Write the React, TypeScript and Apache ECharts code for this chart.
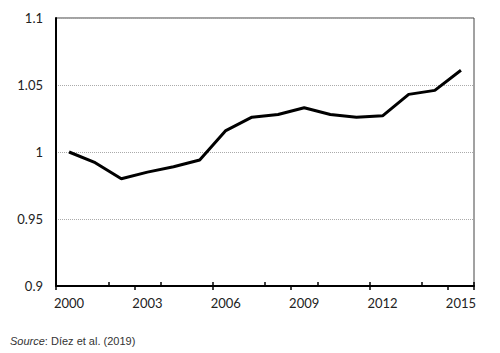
import React, { useEffect, useRef } from "react";
import * as echarts from "echarts";

const years = ["2000","2001","2002","2003","2004","2005","2006","2007","2008","2009","2010","2011","2012","2013","2014","2015"];
const values = [1.0, 0.992, 0.980, 0.985, 0.989, 0.994, 1.016, 1.026, 1.028, 1.033, 1.028, 1.026, 1.027, 1.043, 1.046, 1.061];
const yMin = 0.9;
const yMax = 1.1;
const yStep = 0.05;
const sourceAuthor = "Díez et al. (2019)";

export default function App() {
  const ref = useRef<HTMLDivElement>(null);
  useEffect(() => {
    document.body.style.margin = "0";
    const chart = echarts.init(ref.current!, undefined, { renderer: "svg" });
    chart.setOption({
      animation: false,
      backgroundColor: "#ffffff",
      grid: {
        left: 56, right: 26, top: 18, bottom: 67,
        show: true, borderColor: "#444", borderWidth: 1,
      },
      xAxis: [
        {
          type: "category",
          data: years,
          boundaryGap: true,
          axisLine: { show: true, lineStyle: { color: "#000", width: 2 } },
          axisTick: { show: true, length: 4, lineStyle: { color: "#000", width: 1.5 } },
          axisLabel: {
            interval: 2,
            color: "#222",
            fontFamily: "Lato",
            fontSize: 13,
            margin: 10,
          },
          splitLine: { show: false },
        },
        {
          type: "category",
          data: years,
          position: "bottom",
          boundaryGap: true,
          axisLine: { show: false },
          axisTick: { show: true, inside: true, length: 4, lineStyle: { color: "#000", width: 1.5 } },
          axisLabel: { show: false },
          splitLine: { show: false },
        },
      ],
      yAxis: {
        type: "value",
        min: yMin,
        max: yMax,
        interval: yStep,
        axisLine: { show: true, lineStyle: { color: "#000", width: 2 } },
        axisTick: { show: false },
        axisLabel: {
          color: "#222",
          fontFamily: "Lato",
          fontSize: 13,
          margin: 13,
          formatter: (v: number) => String(Math.round(v * 100) / 100),
        },
        splitLine: { show: true, lineStyle: { color: "#aaa", type: [1, 1], width: 1 } },
      },
      series: [
        {
          type: "line",
          data: values,
          symbol: "none",
          lineStyle: { color: "#000", width: 3 },
          z: 5,
        },
      ],
      graphic: [
        {
          type: "text",
          left: 10,
          top: 335,
          style: {
            text: "{i|Source}{n|: " + sourceAuthor + "}",
            rich: {
              i: { fontStyle: "italic", fontFamily: "Liberation Sans", fontSize: 11, fill: "#333" },
              n: { fontFamily: "Liberation Sans", fontSize: 11, fill: "#333" },
            },
          },
        },
      ],
    });
    return () => chart.dispose();
  }, []);
  return <div ref={ref} style={{ position: "fixed", left: 0, top: 0, width: 500, height: 353 }} />;
}
